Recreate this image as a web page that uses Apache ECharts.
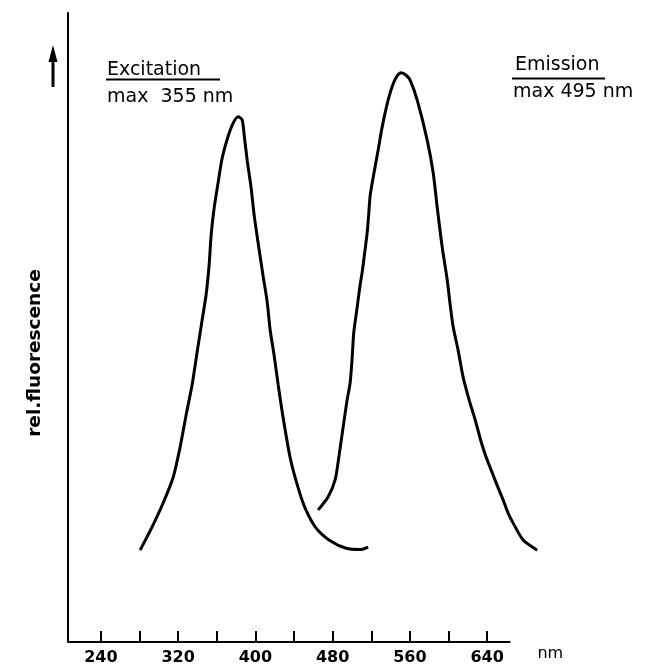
<!DOCTYPE html>
<html>
<head>
<meta charset="utf-8">
<script src="https://cdn.jsdelivr.net/npm/echarts@6/dist/echarts.min.js"></script>
<style>
html,body{margin:0;padding:0;background:#fff;}
#chart{width:652px;height:666px;}
</style>
</head>
<body>
<div id="chart"></div>
<script>
// Wavelength tick values (nm)
var tickValues = [240, 280, 320, 360, 400, 440, 480, 520, 560, 600, 640];
var labelValues = [240, 320, 400, 480, 560, 640];
// drawn extent of the wavelength axis line (nm)
var axisLineRange = [206, 664];

// Excitation spectrum (nm, relative fluorescence)
var excitationNm = [280.7, 293.1, 304.5, 314.9, 322.1, 328.3, 334.5, 339.7, 344.9, 349.0, 352.1, 354.2, 357.3, 361.5, 365.6, 371.8, 377.0, 382.2, 386.3, 388.4, 391.5, 395.6, 398.7, 402.9, 408.0, 412.2, 415.3, 419.4, 423.6, 428.8, 436.0, 444.3, 451.5, 462.9, 477.4, 494.0, 508.5, 516.8];
var excitationVal = [14.6, 18.3, 22.1, 26.2, 31.0, 36.1, 40.9, 46.1, 51.2, 55.2, 59.9, 64.7, 69.0, 73.1, 76.9, 80.4, 82.5, 83.5, 83.0, 80.6, 76.6, 72.2, 67.9, 63.4, 58.2, 54.1, 49.6, 45.6, 40.9, 35.6, 29.3, 24.5, 21.3, 18.1, 16.1, 14.9, 14.7, 15.1];

// Emission spectrum (nm, relative fluorescence)
var emissionNm = [465.0, 475.4, 482.6, 486.7, 490.9, 495.0, 498.1, 500.2, 501.8, 504.3, 506.4, 508.5, 510.6, 513.1, 515.7, 517.3, 518.8, 521.9, 527.1, 531.3, 537.5, 542.6, 546.8, 550.9, 556.1, 560.3, 567.5, 577.9, 584.1, 588.2, 593.4, 598.6, 601.7, 604.8, 609.9, 615.1, 621.3, 627.6, 633.8, 638.9, 645.2, 651.4, 656.5, 661.7, 666.9, 677.3, 691.8];
var emissionVal = [21.0, 23.1, 25.8, 29.7, 34.2, 38.5, 41.2, 45.2, 49.1, 52.0, 54.4, 56.8, 58.8, 61.8, 65.0, 67.9, 70.9, 73.8, 78.2, 81.9, 86.2, 88.7, 90.0, 90.5, 90.1, 89.3, 86.2, 79.8, 74.6, 69.2, 62.8, 57.6, 53.6, 50.1, 46.4, 42.1, 38.5, 35.3, 31.8, 29.4, 26.9, 24.5, 22.6, 20.5, 18.9, 16.2, 14.6];

function pairs(xs, ys) { return xs.map(function (x, i) { return [x, ys[i]]; }); }

var FONT = 'DejaVu Sans';
var chart = echarts.init(document.getElementById('chart'), null, { renderer: 'canvas' });

var option = {
  animation: false,
  backgroundColor: '#fff',
  grid: { left: 68, top: 13, right: 114.6, bottom: 24, containLabel: false },
  xAxis: {
    type: 'value',
    min: 206,
    max: 692,
    name: 'nm',
    nameLocation: 'end',
    nameGap: 0,
    nameTextStyle: { color: '#000', fontFamily: FONT, fontSize: 16, align: 'left', verticalAlign: 'top', padding: [4, 0, 0, 0] },
    axisLine: { show: false },
    axisTick: { show: true, inside: true, length: 11, customValues: tickValues, lineStyle: { color: '#000', width: 2 } },
    axisLabel: { show: true, customValues: labelValues, margin: 8, color: '#000', fontFamily: FONT, fontSize: 16, fontWeight: 'bold' },
    splitLine: { show: false }
  },
  yAxis: {
    type: 'value',
    min: 0,
    max: 100,
    axisLine: { show: true, lineStyle: { color: '#000', width: 2 } },
    axisTick: { show: false },
    axisLabel: { show: false },
    splitLine: { show: false }
  },
  series: [
    {
      name: 'Excitation', type: 'line', data: pairs(excitationNm, excitationVal),
      smooth: 0.25, showSymbol: false,
      lineStyle: { color: '#000', width: 3 },
      markLine: {
        silent: true, symbol: ['none', 'none'], label: { show: false },
        lineStyle: { color: '#000', width: 2, type: 'solid' },
        data: [[{ coord: [axisLineRange[0], 0] }, { coord: [axisLineRange[1], 0] }]]
      }
    },
    {
      name: 'Emission', type: 'line', data: pairs(emissionNm, emissionVal),
      smooth: 0.25, showSymbol: false,
      lineStyle: { color: '#000', width: 3 }
    }
  ],
  graphic: [
    { type: 'text', x: 35, y: 353, rotation: Math.PI / 2,
      style: { text: 'rel.fluorescence', fill: '#000', font: 'bold 18.5px "DejaVu Sans"', align: 'center', verticalAlign: 'middle' } },
    { type: 'line', shape: { x1: 53, y1: 87, x2: 53, y2: 58 }, style: { stroke: '#000', lineWidth: 3 } },
    { type: 'polygon', shape: { points: [[53, 45], [48.5, 62], [57.5, 62]] }, style: { fill: '#000' } },
    { type: 'text', x: 107, y: 70,
      style: { text: 'Excitation', fill: '#000', font: '19px "DejaVu Sans"', align: 'left', verticalAlign: 'middle' } },
    { type: 'line', shape: { x1: 106, y1: 79.5, x2: 220, y2: 79.5 }, style: { stroke: '#000', lineWidth: 2 } },
    { type: 'text', x: 107, y: 97,
      style: { text: 'max  355 nm', fill: '#000', font: '19px "DejaVu Sans"', align: 'left', verticalAlign: 'middle' } },
    { type: 'text', x: 515, y: 65,
      style: { text: 'Emission', fill: '#000', font: '19px "DejaVu Sans"', align: 'left', verticalAlign: 'middle' } },
    { type: 'line', shape: { x1: 512, y1: 78.5, x2: 605, y2: 78.5 }, style: { stroke: '#000', lineWidth: 2 } },
    { type: 'text', x: 513, y: 92,
      style: { text: 'max 495 nm', fill: '#000', font: '19px "DejaVu Sans"', align: 'left', verticalAlign: 'middle' } }
  ]
};
chart.setOption(option);
</script>
</body>
</html>
